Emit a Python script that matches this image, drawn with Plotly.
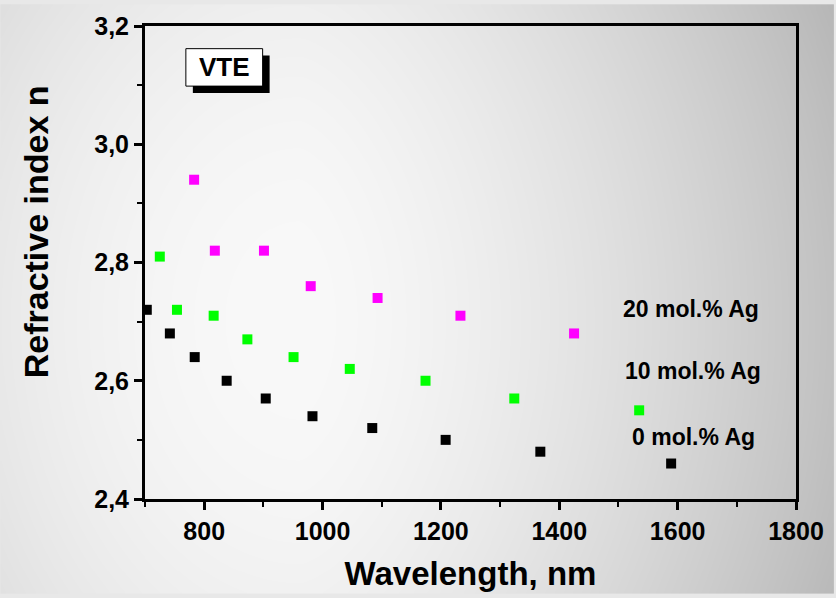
import base64, struct, zlib
import numpy as np
import plotly.graph_objects as go

# ---- data ----
wl_0 = [703, 742, 784, 838, 904, 983, 1084, 1208, 1368, 1589]
n_0 = [2.72, 2.68, 2.64, 2.60, 2.57, 2.54, 2.52, 2.50, 2.48, 2.46]
wl_10 = [725, 754, 816, 873, 951, 1046, 1174, 1324, 1535]
n_10 = [2.81, 2.72, 2.71, 2.67, 2.64, 2.62, 2.60, 2.57, 2.55]
wl_20 = [783, 818, 901, 980, 1093, 1233, 1425]
n_20 = [2.94, 2.82, 2.82, 2.76, 2.74, 2.71, 2.68]
series_labels = ["0 mol.% Ag", "10 mol.% Ag", "20 mol.% Ag"]
label_pos = [(1626, 2.505), (1626, 2.617), (1622, 2.722)]
x_ticks = [800, 1000, 1200, 1400, 1600, 1800]
y_ticks = [2.4, 2.6, 2.8, 3.0, 3.2]

# ---- gradient background image ----
W, H = 836, 598
xs = np.arange(W)[None, :].astype(float)
ys = np.arange(H)[:, None].astype(float)
cx, cy = 300.0, 320.0
dx = xs - cx
left = 16 * (np.clip(-dx, 0, None) / 300.0) ** 2
right = 56 * (np.clip(dx, 0, None) / 536.0) ** 1.5
vert = 10 * ((ys - cy) / 320.0) ** 2
img = np.clip(249 - left - right - vert, 0, 255).astype(np.uint8)
raw = b"".join(b"\x00" + img[r].tobytes() for r in range(H))
def chunk(t, d):
    c = struct.pack(">I", len(d)) + t + d
    return c + struct.pack(">I", zlib.crc32(t + d) & 0xffffffff)
png = b"\x89PNG\r\n\x1a\n" + chunk(b"IHDR", struct.pack(">IIBBBBB", W, H, 8, 0, 0, 0, 0)) \
      + chunk(b"IDAT", zlib.compress(raw, 9)) + chunk(b"IEND", b"")
uri = "data:image/png;base64," + base64.b64encode(png).decode()

FONT = "Arial, Liberation Sans, sans-serif"
fig = go.Figure()
for xv, yv, col in [(wl_0, n_0, "#000000"), (wl_10, n_10, "#00ff00"), (wl_20, n_20, "#ff00ff")]:
    fig.add_trace(go.Scatter(x=xv, y=yv, mode="markers",
                             marker=dict(symbol="square", size=10, color=col, line=dict(width=0)),
                             showlegend=False, cliponaxis=True))

for txt, (lx, ly) in zip(series_labels, label_pos):
    fig.add_annotation(x=lx, y=ly, text="<b>%s</b>" % txt, showarrow=False,
                       xanchor="center", yanchor="middle",
                       font=dict(family=FONT, size=23, color="black"))

pw, ph = 653.0, 480.0
def px(x): return (x - 145) / pw
def py(y): return (502 - y) / ph

# VTE box with shadow
fig.add_shape(type="rect", xref="paper", yref="paper", x0=px(193), x1=px(270), y0=py(90), y1=py(52),
              fillcolor="black", line=dict(width=0))
fig.add_shape(type="rect", xref="paper", yref="paper", x0=px(186), x1=px(263), y0=py(83), y1=py(45),
              fillcolor="white", line=dict(color="black", width=1))
fig.add_annotation(xref="paper", yref="paper", x=px(224.5), y=py(64), text="<b>VTE</b>", showarrow=False,
                   xanchor="center", yanchor="middle",
                   font=dict(family=FONT, size=26, color="black"))

# y axis title (placed like the original, above centre)
fig.add_annotation(xref="paper", yref="paper", x=px(36), y=py(231), text="<b>Refractive index n</b>",
                   showarrow=False, textangle=-90, xanchor="center", yanchor="middle",
                   font=dict(family=FONT, size=34, color="black"))

fig.add_layout_image(dict(source=uri, xref="paper", yref="paper", x=-145 / pw, y=1 + 22 / ph,
                          sizex=W / pw, sizey=H / ph, sizing="stretch", layer="below"))

axis_common = dict(showline=True, linecolor="black", linewidth=3, mirror=True, showgrid=False,
                   zeroline=False, ticks="outside", ticklen=8, tickwidth=3, tickcolor="black",
                   tickfont=dict(family=FONT, size=25, color="black"))
fig.update_xaxes(range=[700, 1800], tickvals=x_ticks,
                 ticktext=["<b>%d</b>" % v for v in x_ticks],
                 minor=dict(ticks="outside", ticklen=5, tickwidth=2, dtick=100, tick0=700, tickcolor="black"),
                 title=dict(text="<b>Wavelength, nm</b>", font=dict(family=FONT, size=33, color="black"), standoff=18),
                 **axis_common)
fig.update_yaxes(range=[2.4, 3.2], tickvals=y_ticks,
                 ticktext=["<b>%s</b>" % ("%.1f" % v).replace(".", ",") for v in y_ticks],
                 minor=dict(ticks="outside", ticklen=5, tickwidth=2, dtick=0.1, tick0=2.4, tickcolor="black"),
                 **axis_common)
fig.update_layout(width=836, height=598, margin=dict(l=145, r=38, t=22, b=96),
                  paper_bgcolor="#e8e8e8", plot_bgcolor="rgba(0,0,0,0)", showlegend=False)
fig.write_html("out.html", config={"displayModeBar": False},
               post_script="document.body.style.margin='0px';document.body.style.overflow='hidden';")
